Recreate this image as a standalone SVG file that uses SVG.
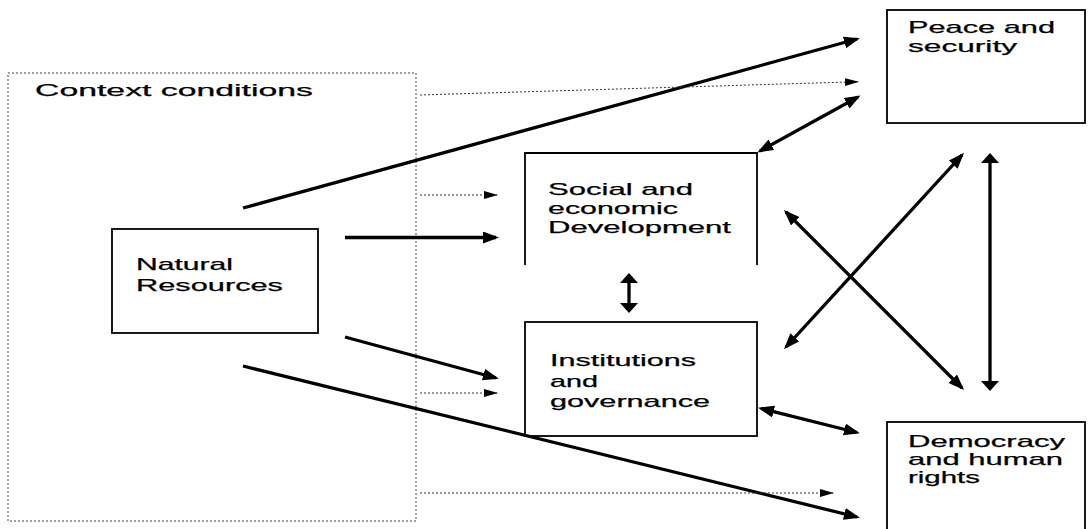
<svg xmlns="http://www.w3.org/2000/svg" width="1088" height="529" viewBox="0 0 1088 529">
<style>
.box{fill:none;stroke:#000;stroke-width:1.8}
.ctx{fill:none;stroke:#444;stroke-width:1;stroke-dasharray:2,2}
.t{font-family:"Liberation Sans",Arial,sans-serif;font-size:17px;fill:#000;stroke:#000;stroke-width:0.25}
.thick{stroke:#000;stroke-width:3.3;fill:none}
.dot{stroke:#333;stroke-width:1;stroke-dasharray:2,2;fill:none}
</style>
<defs>
<marker id="ah" markerUnits="userSpaceOnUse" markerWidth="17" markerHeight="13" refX="13" refY="6" orient="auto-start-reverse" viewBox="0 0 17 13">
<path d="M0,0 L16,6 L0,12 z" fill="#000"/>
</marker>
<marker id="ahd" markerUnits="userSpaceOnUse" markerWidth="15" markerHeight="9" refX="13" refY="4" orient="auto" viewBox="0 0 15 9">
<path d="M0,0 L14,4 L0,8 z" fill="#000"/>
</marker>
<marker id="ahv" markerUnits="userSpaceOnUse" markerWidth="11" markerHeight="19" refX="8" refY="9" orient="auto-start-reverse" viewBox="0 0 11 19">
<path d="M0,0 L10,9 L0,18 z" fill="#000"/>
</marker>
</defs>

<g id="context">
<rect class="ctx" x="8" y="73" width="408" height="448"/>
<text class="t" x="35" y="96" font-size="18" textLength="278" lengthAdjust="spacingAndGlyphs">Context conditions</text>
</g>

<g id="natural">
<rect class="box" x="112" y="229" width="206" height="104"/>
<text class="t" x="136" y="270" textLength="97" lengthAdjust="spacingAndGlyphs">Natural</text>
<text class="t" x="136" y="291" textLength="147" lengthAdjust="spacingAndGlyphs">Resources</text>
</g>

<g id="social">
<path class="box" d="M525,265 V153 H757 V265"/>
<text class="t" x="548" y="195" textLength="145" lengthAdjust="spacingAndGlyphs">Social and</text>
<text class="t" x="548" y="214" textLength="130" lengthAdjust="spacingAndGlyphs">economic</text>
<text class="t" x="548" y="233" textLength="183" lengthAdjust="spacingAndGlyphs">Development</text>
</g>

<g id="institutions">
<rect class="box" x="525" y="322" width="232" height="114"/>
<text class="t" x="550" y="366" textLength="146" lengthAdjust="spacingAndGlyphs">Institutions</text>
<text class="t" x="550" y="387" textLength="48" lengthAdjust="spacingAndGlyphs">and</text>
<text class="t" x="550" y="407" textLength="160" lengthAdjust="spacingAndGlyphs">governance</text>
</g>

<g id="peace">
<rect class="box" x="887" y="10" width="198" height="113"/>
<text class="t" x="908" y="33" textLength="147" lengthAdjust="spacingAndGlyphs">Peace and</text>
<text class="t" x="908" y="52" textLength="109" lengthAdjust="spacingAndGlyphs">security</text>
</g>

<g id="democracy">
<rect class="box" x="887" y="422" width="198" height="120"/>
<text class="t" x="908" y="447" textLength="157" lengthAdjust="spacingAndGlyphs">Democracy</text>
<text class="t" x="908" y="465" textLength="155" lengthAdjust="spacingAndGlyphs">and human</text>
<text class="t" x="908" y="483" textLength="72" lengthAdjust="spacingAndGlyphs">rights</text>
</g>

<g id="connectors">
<line class="thick" x1="243" y1="208" x2="857" y2="39" marker-end="url(#ah)"/>
<line class="dot" x1="420" y1="95" x2="858" y2="81.7" marker-end="url(#ahd)"/>
<line class="thick" x1="760" y1="151" x2="858" y2="97" marker-start="url(#ah)" marker-end="url(#ah)"/>
<line class="dot" x1="420" y1="195" x2="497" y2="195" marker-end="url(#ahd)"/>
<line class="thick" x1="345" y1="237.5" x2="496" y2="237.5" marker-end="url(#ah)"/>
<line class="thick" x1="345" y1="337" x2="496" y2="378" marker-end="url(#ah)"/>
<line class="dot" x1="420" y1="393" x2="497" y2="393" marker-end="url(#ahd)"/>
<line class="thick" x1="243" y1="366" x2="857" y2="517" marker-end="url(#ah)"/>
<line class="dot" x1="420" y1="493" x2="833" y2="493" marker-end="url(#ahd)"/>
<line class="thick" x1="761" y1="408.5" x2="857" y2="432.5" marker-start="url(#ah)" marker-end="url(#ah)"/>
<line class="thick" x1="786" y1="212" x2="962" y2="388" stroke-width="3.6" marker-start="url(#ah)" marker-end="url(#ah)"/>
<line class="thick" x1="786" y1="347" x2="962" y2="155" stroke-width="3.6" marker-start="url(#ah)" marker-end="url(#ah)"/>
<line class="thick" x1="990" y1="155" x2="990" y2="389" stroke-width="6" marker-start="url(#ahv)" marker-end="url(#ahv)"/>
<line class="thick" x1="629" y1="275" x2="629" y2="311" stroke-width="4" marker-start="url(#ahv)" marker-end="url(#ahv)"/>
</g>
</svg>
